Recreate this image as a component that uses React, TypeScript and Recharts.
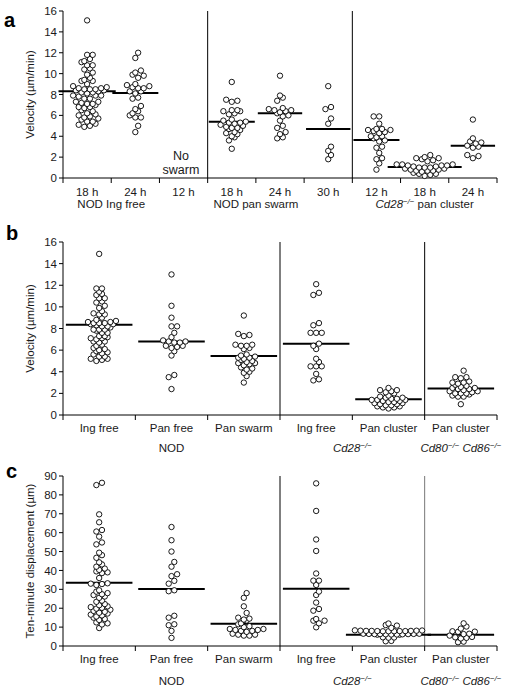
import React from "react";
import { ReferenceLine, Scatter, ScatterChart, XAxis, YAxis } from "recharts";

const FONT = "'Liberation Sans', Arial, Helvetica, sans-serif";

type Seg = { t: string; i?: boolean; sup?: boolean };

// ---- panel a: velocity by time point ----
const aCats = ["18 h", "24 h", "12 h", "18 h", "24 h", "30 h", "12 h", "18 h", "24 h"];
const aGroups: Seg[][] = [
  [{ t: "NOD Ing free" }],
  [{ t: "NOD pan swarm" }],
  [{ t: "Cd28", i: true }, { t: "−/−", i: true, sup: true }, { t: " pan cluster" }],
];
const aGroupAt = [1, 4, 7.5];
const aIng18 = [15.1, 11.8, 11.8, 11.4, 11.2, 11.1, 10.8, 10.8, 10.5, 10.4, 10.1, 9.9, 9.6, 9.4, 9.3, 9.3, 9.0, 8.8, 8.7, 8.6, 8.6, 8.5, 8.5, 8.5, 8.4, 8.4, 8.3, 8.2, 8.2, 8.1, 7.9, 7.9, 7.9, 7.8, 7.6, 7.6, 7.3, 7.3, 7.2, 7.1, 7.1, 7.0, 6.8, 6.8, 6.7, 6.5, 6.4, 6.2, 6.1, 6.0, 5.9, 5.8, 5.7, 5.6, 5.4, 5.4, 5.2, 5.1, 5.0, 4.9];
const aIng24 = [12.0, 11.5, 10.3, 10.1, 9.9, 9.8, 9.6, 9.0, 8.9, 8.8, 8.7, 8.6, 8.6, 8.3, 8.3, 8.1, 7.7, 7.6, 6.9, 6.6, 6.4, 6.2, 6.0, 5.8, 5.8, 5.0, 4.4];
const aPan12: number[] = [];
const aPan18 = [9.2, 7.5, 7.4, 7.3, 6.5, 6.5, 6.4, 6.4, 6.2, 6.1, 5.6, 5.5, 5.4, 5.3, 5.3, 5.2, 5.1, 5.0, 4.9, 4.8, 4.8, 4.7, 4.6, 4.4, 4.3, 4.2, 4.0, 3.9, 3.6, 2.8];
const aPan24 = [9.8, 7.9, 7.7, 7.4, 6.7, 6.6, 6.5, 6.5, 6.4, 6.3, 6.2, 6.0, 5.9, 5.5, 5.0, 4.8, 4.4, 4.2, 3.9, 3.8];
const aPan30 = [8.8, 6.8, 6.6, 5.7, 5.2, 3.0, 2.6, 2.2, 1.8];
const aCd12 = [5.9, 5.9, 5.2, 4.7, 4.7, 4.6, 4.6, 4.5, 4.4, 4.3, 4.0, 4.0, 3.9, 3.8, 3.6, 3.5, 3.0, 2.9, 2.4, 1.9, 1.8, 1.4, 0.8];
const aCd18 = [2.2, 2.0, 1.9, 1.9, 1.8, 1.7, 1.6, 1.3, 1.3, 1.3, 1.2, 1.2, 1.2, 1.1, 1.1, 1.0, 1.0, 1.0, 0.9, 0.9, 0.8, 0.8, 0.7, 0.7, 0.7, 0.6, 0.5, 0.4, 0.4, 0.3, 0.2];
const aCd24 = [5.6, 3.8, 3.5, 3.4, 3.3, 3.1, 3.0, 2.9, 2.2, 2.1, 1.9];
const aMedians = [8.3, 8.15, null, 5.4, 6.2, 4.7, 3.65, 1.05, 3.1];
const velTicks = [0, 2, 4, 6, 8, 10, 12, 14, 16];

// ---- panel b: velocity by location ----
const bCats = ["Ing free", "Pan free", "Pan swarm", "Ing free", "Pan cluster", "Pan cluster"];
const bGroups: Seg[][] = [
  [{ t: "NOD" }],
  [{ t: "Cd28", i: true }, { t: "−/−", i: true, sup: true }],
  [{ t: "Cd80", i: true }, { t: "−/−", i: true, sup: true }, { t: " " }, { t: "Cd86", i: true }, { t: "−/−", i: true, sup: true }],
];
const bGroupAt = [1.5, 4, 5.5];
const bNodIng = [14.9, 11.7, 11.7, 11.4, 11.2, 11.1, 10.8, 10.8, 10.5, 10.4, 10.1, 9.9, 9.6, 9.4, 9.3, 9.3, 9.0, 8.8, 8.7, 8.6, 8.6, 8.5, 8.5, 8.5, 8.4, 8.4, 8.3, 8.2, 8.2, 8.1, 7.9, 7.9, 7.9, 7.8, 7.6, 7.6, 7.3, 7.3, 7.2, 7.1, 7.1, 7.0, 6.8, 6.8, 6.7, 6.5, 6.4, 6.2, 6.1, 6.0, 5.9, 5.8, 5.7, 5.6, 5.4, 5.4, 5.2, 5.2, 5.1, 5.0];
const bNodPanFree = [13.0, 10.1, 9.0, 8.2, 8.2, 7.6, 7.2, 6.9, 6.8, 6.8, 6.7, 6.7, 6.4, 6.4, 6.3, 6.2, 5.9, 5.5, 3.7, 3.5, 2.4];
const bNodPanSwarm = [9.2, 7.5, 7.4, 7.3, 6.5, 6.5, 6.4, 6.4, 6.2, 6.1, 5.6, 5.5, 5.4, 5.3, 5.3, 5.2, 5.1, 5.0, 4.9, 4.8, 4.8, 4.7, 4.6, 4.4, 4.3, 4.2, 4.0, 3.9, 3.6, 3.0];
const bCdIng = [12.1, 11.3, 11.1, 8.5, 8.3, 7.6, 7.6, 7.6, 6.6, 6.4, 6.1, 5.2, 4.9, 4.5, 4.5, 4.5, 3.8, 3.3, 3.2];
const bCdPan = [2.5, 2.3, 2.3, 2.2, 2.1, 2.0, 1.8, 1.7, 1.6, 1.6, 1.5, 1.5, 1.4, 1.4, 1.4, 1.3, 1.3, 1.2, 1.2, 1.1, 1.1, 1.0, 1.0, 0.9, 0.9, 0.8, 0.8, 0.7, 0.7, 0.6];
const bDkoPan = [4.1, 3.5, 3.5, 3.4, 3.1, 3.0, 3.0, 2.9, 2.8, 2.7, 2.6, 2.5, 2.5, 2.4, 2.4, 2.3, 2.2, 2.2, 2.1, 2.0, 2.0, 2.0, 1.9, 1.8, 1.7, 1.7, 1.0];
const bMedians = [8.35, 6.8, 5.45, 6.6, 1.45, 2.45];

// ---- panel c: ten-minute displacement ----
const cNodIng = [86.4, 85.2, 69.7, 65.5, 61.4, 60.6, 57.9, 54.8, 53.8, 49.4, 48.1, 46.7, 44.3, 43.2, 42.0, 41.0, 40.3, 39.5, 39.0, 38.6, 36.0, 33.2, 33.0, 32.8, 32.3, 29.5, 28.8, 28.0, 27.4, 27.0, 26.2, 25.5, 24.0, 23.4, 22.2, 21.6, 21.0, 20.6, 20.2, 19.8, 19.2, 18.6, 18.1, 17.6, 17.2, 16.6, 16.2, 15.6, 15.0, 14.3, 13.8, 12.5, 12.0, 11.4, 9.5];
const cNodPanFree = [63, 56, 50, 44.5, 42, 38, 37, 34.5, 33, 29.5, 29, 16, 15, 11.5, 11, 8, 4.3];
const cNodPanSwarm = [28, 25.5, 21, 17.5, 15, 14.5, 14, 13.5, 12, 11.5, 10.5, 10, 9, 9, 8.5, 8.5, 8, 8, 7.5, 6.5, 6, 6, 5.5, 5.5];
const cCdIng = [86.1, 71.5, 56.4, 50.3, 38.4, 34.6, 34.6, 32.3, 28.8, 27, 23, 19.6, 18.7, 14.3, 13.4, 13.4, 12, 9.9];
const cCdPan = [11.9, 11.1, 10.8, 9.6, 8.3, 8.2, 8.1, 8.1, 8.0, 8.0, 8.0, 7.9, 7.9, 7.9, 7.8, 7.8, 7.8, 6.5, 6.5, 6.4, 6.4, 6.3, 6.3, 6.3, 6.2, 6.2, 6.1, 6.1, 6.0, 6.0, 4.6, 4.5, 4.4, 2.7, 2.5];
const cDkoPan = [12, 10.3, 9.2, 7.8, 7.6, 7.5, 6.5, 6.3, 5.5, 4.8, 4.6, 4.3, 4.0, 2.3, 2.0];
const cMedians = [33.5, 30.2, 11.8, 30.3, 6.0, 6.0];
const dispTicks = [0, 10, 20, 30, 40, 50, 60, 70, 80, 90];

const W = 512;
const LEFT = 63;
const RIGHT = 15;
const BIN = 3.2; // px height of one row of dots
const STEP = 5.6; // px between dots in a row

// prism-style dot layout: group close values into rows, spread each row sideways
function swarm(values: number[], pxPerUnit: number) {
  const sorted = [...values].sort((a, b) => a - b);
  const rows: number[][] = [];
  let start = -Infinity;
  for (const v of sorted) {
    const y = v * pxPerUnit;
    if (y - start > BIN) {
      rows.push([]);
      start = y;
    }
    rows[rows.length - 1].push(v);
  }
  const out: { dx: number; v: number }[] = [];
  let prevY = -Infinity;
  let prevOff = 0;
  for (const row of rows) {
    const k = row.length;
    const y = row[0] * pxPerUnit;
    const base = k % 2 === 0 ? STEP / 2 : 0;
    let shift = 0;
    if (y - prevY < 6.5) {
      let s = (((prevOff + STEP / 2 - base) % STEP) + STEP) % STEP;
      if (s > STEP / 2) s -= STEP;
      shift = s;
    }
    const order: number[] = [];
    const mid = Math.floor((k - 1) / 2);
    for (let d = 0; order.length < k; d++) {
      if (mid + d < k) order.push(mid + d);
      if (d > 0 && mid - d >= 0 && order.length < k) order.push(mid - d);
    }
    row.forEach((v, j) => {
      out.push({ dx: shift + (order[j] - (k - 1) / 2) * STEP, v });
    });
    prevY = row[k - 1] * pxPerUnit;
    prevOff = (((shift + base) % STEP) + STEP) % STEP;
  }
  return out;
}

const Dot = (p: any) => (
  <circle cx={p.cx} cy={p.cy} r={2.7} fill="#fff" stroke="#000" strokeWidth={0.9} />
);

function SegText({ x, y, segs, size }: { x: number; y: number; segs: Seg[]; size: number }) {
  let shifted = false;
  return (
    <text x={x} y={y} textAnchor="middle" fontSize={size} fontFamily={FONT} fill="#1a1a1a">
      {segs.map((s, k) => {
        let dy = 0;
        if (s.sup && !shifted) {
          dy = -4.5;
          shifted = true;
        } else if (!s.sup && shifted) {
          dy = 4.5;
          shifted = false;
        }
        return (
          <tspan key={k} dy={dy} fontStyle={s.i ? "italic" : "normal"} fontSize={s.sup ? size * 0.68 : size}>
            {s.t}
          </tspan>
        );
      })}
    </text>
  );
}

const YLabel = (p: any) => {
  const vb = p.viewBox;
  const cx = 30;
  const cy = vb.y + vb.height / 2;
  return (
    <text
      x={cx}
      y={cy}
      transform={`rotate(-90 ${cx} ${cy})`}
      textAnchor="middle"
      dominantBaseline="central"
      fontSize={11.5}
      fontFamily={FONT}
      fill="#1a1a1a"
    >
      {p.text}
    </text>
  );
};

type PanelProps = {
  top: number;
  height: number;
  plotTop: number;
  plotBottom: number;
  yMax: number;
  yTicks: number[];
  yLabel: string;
  cats: string[];
  series: number[][];
  medians: (number | null)[];
  groups: Seg[][];
  groupAt: number[];
  dividers: number[];
  dividerColors: string[];
  tickBase: number;
  groupBase: number;
};

function Panel(props: PanelProps) {
  const { top, height, plotTop, plotBottom, yMax, cats, series, medians } = props;
  const n = cats.length;
  const catW = (W - LEFT - RIGHT) / n;
  const pxPerUnit = (plotBottom - plotTop) / yMax;

  const swarms = series.map((vals) => swarm(vals, pxPerUnit));
  const points = swarms.flatMap((sw, i) => sw.map((p) => ({ x: i + 0.5 + p.dx / catW, y: p.v })));
  const halfW = swarms.map((sw) => {
    const ext = sw.reduce((m, p) => Math.max(m, Math.abs(p.dx)), 0);
    return Math.max(0.46 * catW, ext + 9) / catW;
  });

  const XTick = (p: any) => {
    const v = p.payload.value as number;
    const ax = p.x as number;
    return (
      <g>
        {v < n && (
          <text x={ax + catW / 2} y={props.tickBase - top} textAnchor="middle" fontSize={11.5} fontFamily={FONT} fill="#1a1a1a">
            {cats[v]}
          </text>
        )}
        {props.groupAt.map((g, k) =>
          Math.floor(g) === v ? (
            <SegText key={k} x={ax + (g - v) * catW} y={props.groupBase - top} segs={props.groups[k]} size={11.5} />
          ) : null
        )}
      </g>
    );
  };

  return (
    <div style={{ position: "absolute", left: 0, top }}>
      <ScatterChart width={W} height={height} margin={{ top: plotTop - top, right: RIGHT, bottom: 0, left: 0 }}>
        <XAxis
          type="number"
          dataKey="x"
          domain={[0, n]}
          ticks={Array.from({ length: n + 1 }, (_, i) => i)}
          interval={0}
          allowDataOverflow
          height={height - (plotBottom - top)}
          axisLine={{ stroke: "#000" }}
          tickLine={{ stroke: "#000" }}
          tickSize={5}
          tick={XTick}
        />
        <YAxis
          type="number"
          dataKey="y"
          domain={[0, yMax]}
          ticks={props.yTicks}
          interval={0}
          width={LEFT}
          axisLine={{ stroke: "#000" }}
          tickLine={{ stroke: "#000" }}
          tickSize={4}
          tick={{ fontSize: 11.5, fill: "#1a1a1a", fontFamily: FONT }}
          label={<YLabel text={props.yLabel} />}
        />
        {props.dividers.map((d, k) => (
          <ReferenceLine key={"d" + k} x={d} stroke={props.dividerColors[k]} strokeWidth={1} />
        ))}
        {medians.map((m, i) =>
          m == null ? null : (
            <ReferenceLine
              key={"m" + i}
              ifOverflow="visible"
              segment={[
                { x: i + 0.5 - halfW[i], y: m },
                { x: i + 0.5 + halfW[i], y: m },
              ]}
              stroke="#000"
              strokeWidth={2}
            />
          )
        )}
        <Scatter data={points} shape={Dot} isAnimationActive={false} />
      </ScatterChart>
    </div>
  );
}

const letterStyle: React.CSSProperties = {
  position: "absolute",
  fontFamily: FONT,
  fontWeight: "bold",
  fontSize: 20,
  lineHeight: "20px",
  color: "#000",
};

export default function App() {
  return (
    <div style={{ position: "absolute", left: 0, top: 0, width: 512, height: 690, background: "#fff" }}>
      <Panel
        top={0}
        height={215}
        plotTop={11}
        plotBottom={178}
        yMax={16}
        yTicks={velTicks}
        yLabel="Velocity (µm/min)"
        cats={aCats}
        series={[aIng18, aIng24, aPan12, aPan18, aPan24, aPan30, aCd12, aCd18, aCd24]}
        medians={aMedians}
        groups={aGroups}
        groupAt={aGroupAt}
        dividers={[3, 6]}
        dividerColors={["#000", "#000"]}
        tickBase={196}
        groupBase={208}
      />
      <Panel
        top={222}
        height={238}
        plotTop={242}
        plotBottom={415}
        yMax={16}
        yTicks={velTicks}
        yLabel="Velocity (µm/min)"
        cats={bCats}
        series={[bNodIng, bNodPanFree, bNodPanSwarm, bCdIng, bCdPan, bDkoPan]}
        medians={bMedians}
        groups={bGroups}
        groupAt={bGroupAt}
        dividers={[3, 5]}
        dividerColors={["#000", "#000"]}
        tickBase={432}
        groupBase={452}
      />
      <Panel
        top={460}
        height={230}
        plotTop={476}
        plotBottom={646}
        yMax={90}
        yTicks={dispTicks}
        yLabel="Ten-minute displacement (µm)"
        cats={bCats}
        series={[cNodIng, cNodPanFree, cNodPanSwarm, cCdIng, cCdPan, cDkoPan]}
        medians={cMedians}
        groups={bGroups}
        groupAt={bGroupAt}
        dividers={[3, 5]}
        dividerColors={["#000", "#777"]}
        tickBase={663}
        groupBase={685}
      />
      <div style={{ ...letterStyle, left: 4, top: 10 }}>a</div>
      <div style={{ ...letterStyle, left: 6, top: 223 }}>b</div>
      <div style={{ ...letterStyle, left: 6, top: 461 }}>c</div>
      <div
        style={{
          position: "absolute",
          left: 151,
          top: 149,
          width: 60,
          textAlign: "center",
          fontFamily: FONT,
          fontSize: 12.5,
          lineHeight: "14px",
          color: "#1a1a1a",
        }}
      >
        No
        <br />
        swarm
      </div>
    </div>
  );
}
